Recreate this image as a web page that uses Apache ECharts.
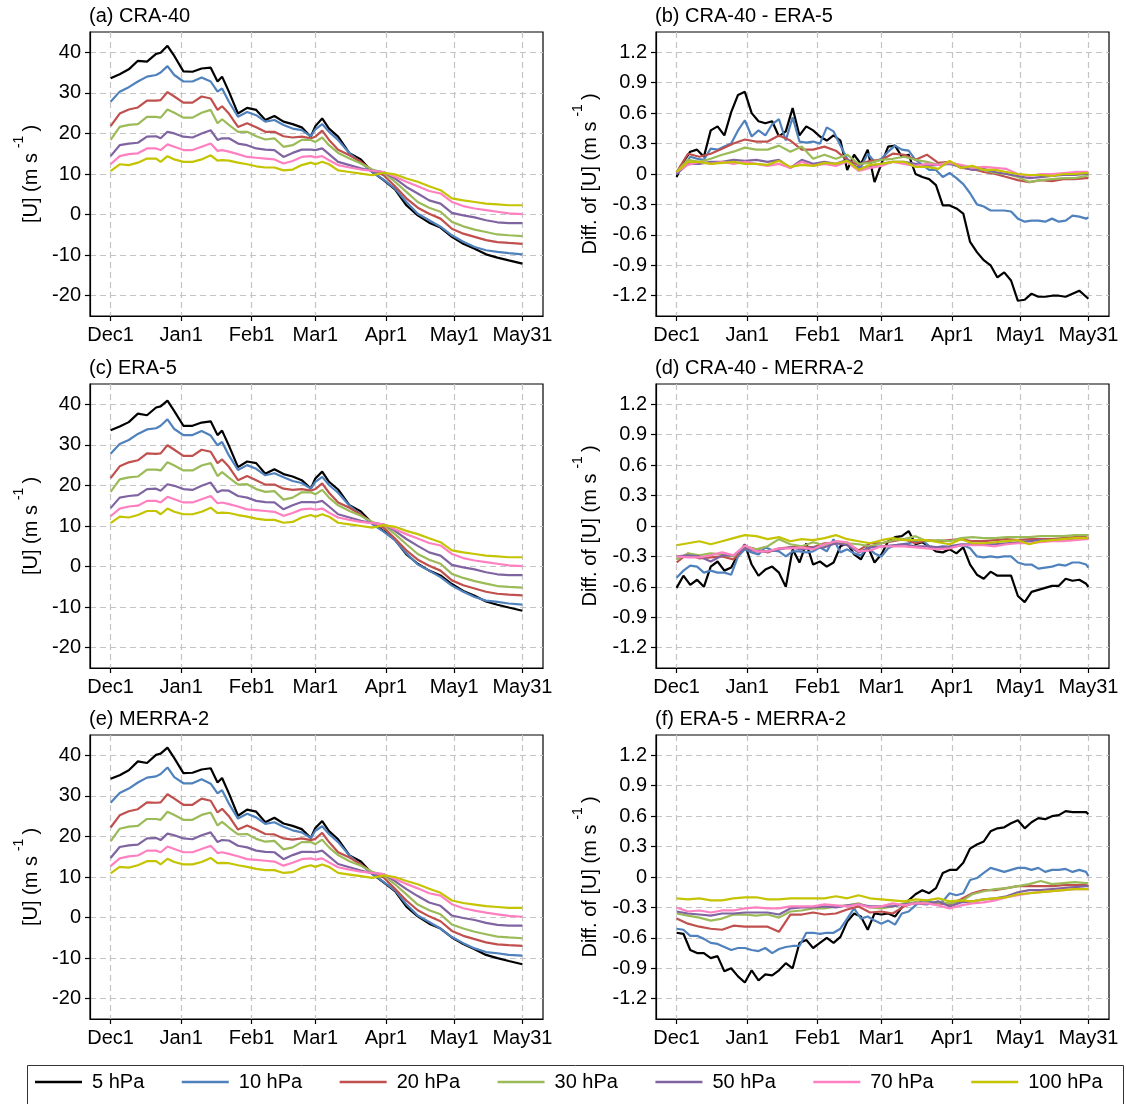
<!DOCTYPE html>
<html><head><meta charset="utf-8">
<script src="https://cdn.jsdelivr.net/npm/echarts@6/dist/echarts.min.js"></script>
<style>html,body{margin:0;padding:0;background:#fff}#chart{width:1126px;height:1104px}</style>
</head><body><div id="chart"></div>
<script>
const FONT = '"Liberation Sans", Arial, Helvetica, sans-serif';
const LEVELS = ['5 hPa','10 hPa','20 hPa','30 hPa','50 hPa','70 hPa','100 hPa'];
const COLORS = ['#000000','#4f81bd','#c0504d','#9bbb59','#8064a2','#ff80c0','#c4c400'];
const X_TICK_DAYS = [0,31,62,90,121,151,181];
const X_TICK_LABELS = ['Dec1','Jan1','Feb1','Mar1','Apr1','May1','May31'];
const Y_TICKS_U = [-20,-10,0,10,20,30,40];
const Y_TICKS_DIFF = [-1.2,-0.9,-0.6,-0.3,0,0.3,0.6,0.9,1.2];

// day index (0 = Dec1) of the sampled points
const LEFT_DAYS = [0,4,8,12,16,20,22,25,28,32,36,40,44,47,49,52,56,60,64,68,72,76,80,84,88,90,93,96,100,105,110,115,120,125,130,135,140,145,150,155,160,165,170,175,181];
const DAYS3 = [0,3,6,9,12,15,18,21,24,27,30,33,36,39,42,45,48,51,54,57,60,63,66,69,72,75,78,81,84,87,90,93,96,99,102,105,108,111,114,117,120,123,126,129,132,135,138,141,144,147,150,153,156,159,162,165,168,171,174,177,180,181];
const DAYS5 = [0,5,10,15,20,25,30,35,40,45,50,55,60,65,70,75,80,85,90,95,100,105,110,115,120,125,130,135,140,145,150,155,160,165,170,175,180,181];

// (a) CRA-40
const A5   = [33.6,34.6,35.8,37.9,37.7,39.6,39.9,41.6,39.1,35.3,35.2,36.0,36.2,32.8,34.0,30.3,24.9,26.3,25.8,23.3,24.3,22.9,22.3,21.5,19.2,21.8,23.7,21.2,19.2,15.1,13.6,10.5,8.5,6.2,2.3,-0.2,-2.0,-3.2,-5.5,-7.2,-8.4,-9.8,-10.6,-11.3,-12.1];
const A10  = [27.8,30.3,31.4,32.8,34.0,34.4,35.0,36.6,34.4,32.8,32.8,33.8,32.8,30.3,31.1,27.8,24.1,25.3,24.5,22.9,23.3,22.1,21.2,20.8,19.3,21.0,22.3,20.4,18.4,15.1,12.8,10.5,8.6,6.4,3.1,0.2,-1.4,-3.0,-5.1,-6.7,-8.0,-8.8,-9.2,-9.5,-9.8];
const A20  = [21.8,24.9,25.9,26.4,28.1,28.1,28.2,30.2,29.1,27.6,27.6,29.1,28.6,25.8,26.7,24.9,21.6,22.5,21.5,20.4,20.4,19.3,19.0,19.2,18.8,19.2,20.7,18.4,16.0,14.6,13.0,10.9,9.7,7.0,4.0,1.7,0.2,-1.0,-3.5,-4.7,-5.5,-6.3,-6.8,-7.0,-7.2];
const A30  = [18.4,21.6,22.1,22.3,24.1,24.1,23.9,25.9,25.1,23.9,23.9,25.1,25.8,22.5,23.5,22.1,20.4,20.4,19.3,18.5,18.8,16.7,17.1,18.4,18.4,17.9,19.0,17.1,15.2,13.8,12.6,11.1,10.3,8.1,5.6,3.1,1.7,0.7,-1.8,-2.9,-3.7,-4.3,-4.9,-5.1,-5.3];
const A50  = [14.4,17.1,17.5,17.7,19.2,19.3,18.8,20.4,20.0,19.2,19.0,20.0,20.8,18.4,18.8,18.8,17.5,17.1,16.3,16.0,15.9,14.2,15.2,16.0,16.0,15.9,16.3,14.9,13.0,12.2,11.4,10.8,10.5,8.9,6.8,5.2,3.5,2.7,0.4,-0.2,-0.7,-1.4,-1.9,-2.1,-2.1];
const A70  = [12.4,14.4,14.9,15.1,16.3,16.3,15.9,17.3,16.7,15.9,15.9,16.7,17.5,15.7,15.9,15.5,14.9,14.2,14.0,13.8,13.6,12.6,13.2,14.2,14.4,14.1,14.4,13.4,12.2,11.6,11.1,10.8,10.5,9.3,8.1,7.0,5.8,5.2,3.1,2.1,1.5,1.1,0.7,0.3,0.1];
const A100 = [10.7,12.4,12.2,12.8,13.8,13.8,13.0,14.4,13.6,13.0,13.0,13.6,14.6,13.3,13.4,13.3,12.8,12.4,11.9,11.6,11.6,10.9,11.1,12.2,12.8,12.4,13.0,12.4,10.9,10.5,10.1,9.7,10.3,9.9,8.9,8.1,7.0,6.0,4.0,3.5,3.1,2.7,2.5,2.3,2.3];

// (c) ERA-5
const C5   = [33.6,34.5,35.6,37.7,37.3,39.2,39.5,40.9,38.3,34.7,34.7,35.5,35.8,32.4,33.5,29.8,24.5,25.9,25.5,22.9,24.0,22.8,22.2,21.3,19.2,21.7,23.4,20.9,19.0,15.1,13.6,10.7,8.8,6.6,3.0,0.7,-1.0,-2.2,-4.3,-6.0,-7.2,-8.6,-9.4,-10.1,-10.9];
const C10  = [27.8,30.2,31.2,32.7,33.8,34.1,34.7,36.3,33.9,32.4,32.4,33.4,32.3,29.9,30.7,27.4,23.8,25.0,24.1,22.5,23.0,22.0,21.1,20.6,19.2,20.9,22.1,20.1,18.2,15.0,12.8,10.5,8.6,6.5,3.3,0.5,-1.0,-2.6,-4.7,-6.2,-7.5,-8.4,-8.7,-9.1,-9.4];
const C20  = [21.8,24.7,25.7,26.2,27.9,27.8,27.9,29.9,28.8,27.3,27.3,28.8,28.3,25.5,26.4,24.6,21.3,22.3,21.3,20.2,20.2,19.2,18.9,19.1,18.7,19.1,20.5,18.2,15.8,14.5,12.8,10.8,9.6,6.9,4.0,1.7,0.2,-1.0,-3.4,-4.6,-5.4,-6.2,-6.7,-6.9,-7.1];
const C30  = [18.4,21.5,22.0,22.2,23.9,23.9,23.7,25.7,24.9,23.7,23.7,24.9,25.5,22.3,23.3,21.9,20.2,20.3,19.1,18.4,18.6,16.5,17.0,18.3,18.3,17.8,18.9,17.0,15.1,13.7,12.5,11.0,10.2,8.0,5.5,3.1,1.7,0.7,-1.8,-2.8,-3.6,-4.2,-4.8,-5.0,-5.2];
const C50  = [14.4,17.0,17.4,17.6,19.1,19.2,18.7,20.3,19.9,19.1,18.9,19.9,20.7,18.3,18.8,18.7,17.4,17.0,16.2,15.9,15.8,14.1,15.1,15.9,15.9,15.8,16.2,14.8,12.9,12.1,11.3,10.7,10.4,8.8,6.8,5.1,3.5,2.7,0.4,-0.2,-0.7,-1.4,-1.9,-2.1,-2.1];
const C70  = [12.4,14.3,14.8,15.0,16.2,16.2,15.8,17.2,16.6,15.8,15.8,16.6,17.4,15.6,15.8,15.4,14.8,14.1,13.9,13.7,13.5,12.5,13.2,14.1,14.3,14.0,14.3,13.3,12.1,11.5,11.0,10.7,10.4,9.2,8.0,6.9,5.8,5.2,3.1,2.1,1.5,1.1,0.7,0.3,0.1];
const C100 = [10.7,12.3,12.1,12.7,13.7,13.7,12.9,14.3,13.5,12.9,12.9,13.5,14.5,13.2,13.3,13.2,12.7,12.3,11.8,11.5,11.5,10.8,11.0,12.1,12.7,12.3,12.9,12.3,10.8,10.4,10.0,9.6,10.2,9.8,8.8,8.0,7.0,6.0,4.0,3.5,3.1,2.7,2.5,2.3,2.3];

// (e) MERRA-2
const E5   = [34.2,35.1,36.3,38.5,38.1,40.1,40.4,41.9,39.3,35.6,35.7,36.5,36.8,33.3,34.4,30.6,25.1,26.6,26.1,23.5,24.6,23.2,22.6,21.8,19.6,22.1,23.8,21.3,19.3,15.3,13.8,10.8,8.7,6.5,2.7,0.3,-1.5,-2.7,-4.9,-6.5,-7.8,-9.2,-10.0,-10.7,-11.5];
const E10  = [28.3,30.7,31.8,33.3,34.5,34.8,35.4,37.0,34.6,33.1,33.1,34.1,33.0,30.6,31.4,28.1,24.4,25.6,24.7,23.1,23.5,22.4,21.5,21.0,19.6,21.4,22.5,20.6,18.6,15.3,13.0,10.8,8.8,6.7,3.3,0.5,-1.1,-2.7,-4.8,-6.3,-7.6,-8.5,-8.8,-9.2,-9.4];
const E20  = [22.2,25.2,26.2,26.7,28.4,28.3,28.4,30.4,29.3,27.8,27.8,29.3,28.8,25.9,26.8,25.0,21.7,22.7,21.7,20.6,20.5,19.5,19.2,19.5,19.1,19.4,20.9,18.6,16.1,14.8,13.1,11.1,9.9,7.1,4.2,1.8,0.3,-0.9,-3.3,-4.5,-5.3,-6.1,-6.6,-6.8,-7.0];
const E30  = [18.8,21.9,22.4,22.6,24.3,24.3,24.1,26.1,25.3,24.1,24.1,25.3,25.9,22.7,23.6,22.2,20.5,20.6,19.4,18.7,18.9,16.8,17.3,18.6,18.6,18.1,19.2,17.3,15.4,13.9,12.8,11.3,10.4,8.2,5.7,3.2,1.8,0.8,-1.7,-2.7,-3.5,-4.1,-4.7,-4.9,-5.1];
const E50  = [14.7,17.4,17.8,18.0,19.5,19.6,19.1,20.7,20.3,19.5,19.3,20.3,21.0,18.6,19.1,19.0,17.7,17.3,16.5,16.2,16.1,14.4,15.4,16.2,16.2,16.1,16.5,15.1,13.2,12.4,11.6,10.9,10.7,9.0,7.0,5.3,3.7,2.9,0.5,-0.1,-0.6,-1.3,-1.8,-2.0,-2.0];
const E70  = [12.7,14.6,15.1,15.3,16.5,16.5,16.1,17.5,16.9,16.1,16.1,16.9,17.7,15.9,16.1,15.7,15.1,14.4,14.2,14.0,13.8,12.8,13.5,14.4,14.6,14.3,14.6,13.6,12.4,11.8,11.3,11.0,10.7,9.5,8.3,7.2,6.0,5.4,3.3,2.3,1.7,1.2,0.8,0.4,0.2];
const E100 = [10.9,12.5,12.3,12.9,13.9,13.9,13.1,14.5,13.7,13.1,13.1,13.7,14.7,13.4,13.5,13.4,12.9,12.5,12.0,11.7,11.7,11.0,11.2,12.3,12.9,12.5,13.1,12.5,11.0,10.6,10.2,9.8,10.4,10.0,9.0,8.2,7.1,6.1,4.2,3.6,3.2,2.8,2.6,2.4,2.4];

// (b) CRA-40 - ERA-5   (5, 10 hPa on DAYS3; others on DAYS5)
const B5   = [-0.03,0.12,0.22,0.24,0.17,0.43,0.47,0.38,0.61,0.78,0.81,0.6,0.52,0.5,0.52,0.37,0.42,0.65,0.38,0.47,0.43,0.37,0.33,0.38,0.33,0.04,0.19,0.1,0.24,-0.08,0.1,0.27,0.28,0.17,0.19,0.0,-0.03,-0.05,-0.11,-0.31,-0.31,-0.34,-0.39,-0.67,-0.77,-0.85,-0.9,-1.02,-0.97,-1.05,-1.25,-1.24,-1.18,-1.21,-1.21,-1.2,-1.2,-1.21,-1.18,-1.15,-1.21,-1.23];
const B10  = [0.0,0.07,0.17,0.15,0.14,0.25,0.24,0.27,0.3,0.43,0.53,0.37,0.43,0.38,0.49,0.54,0.33,0.56,0.32,0.31,0.32,0.3,0.46,0.42,0.28,0.15,0.07,0.07,0.2,0.12,0.15,0.22,0.28,0.24,0.23,0.14,0.09,0.04,0.04,-0.03,0.01,-0.04,-0.1,-0.19,-0.3,-0.32,-0.36,-0.36,-0.36,-0.37,-0.44,-0.47,-0.46,-0.46,-0.47,-0.44,-0.47,-0.46,-0.41,-0.42,-0.44,-0.43];
const B20  = [0.02,0.2,0.17,0.2,0.25,0.3,0.34,0.32,0.32,0.38,0.33,0.24,0.24,0.27,0.23,0.14,0.09,0.13,0.14,0.2,0.19,0.14,0.19,0.11,0.12,0.06,0.05,0.02,0.0,-0.03,-0.06,-0.08,-0.06,-0.07,-0.05,-0.05,-0.04,-0.04];
const B30  = [0.02,0.14,0.12,0.15,0.19,0.22,0.26,0.24,0.24,0.28,0.22,0.27,0.15,0.19,0.15,0.19,0.1,0.11,0.14,0.15,0.17,0.14,0.12,0.09,0.12,0.08,0.05,0.04,0.01,0.0,-0.03,-0.08,-0.06,-0.05,-0.04,-0.04,-0.02,-0.01];
const B50  = [0.0,0.1,0.1,0.12,0.12,0.14,0.13,0.14,0.12,0.14,0.06,0.14,0.1,0.12,0.1,0.14,0.05,0.08,0.1,0.12,0.12,0.1,0.08,0.09,0.1,0.07,0.04,0.05,0.02,0.0,-0.02,-0.04,-0.03,-0.02,-0.01,-0.01,0.0,0.0];
const B70  = [0.02,0.09,0.12,0.1,0.12,0.1,0.12,0.1,0.08,0.1,0.06,0.12,0.08,0.1,0.08,0.12,0.03,0.06,0.08,0.12,0.1,0.08,0.1,0.09,0.11,0.09,0.06,0.07,0.06,0.05,0.0,-0.02,0.0,0.0,0.01,0.02,0.02,0.02];
const B100 = [0.02,0.12,0.12,0.1,0.11,0.12,0.1,0.1,0.09,0.13,0.07,0.09,0.08,0.11,0.1,0.13,0.04,0.09,0.1,0.12,0.12,0.07,0.07,0.05,0.13,0.06,0.08,0.04,0.04,0.02,0.0,-0.01,-0.01,-0.02,0.0,0.0,0.01,0.01];

// (d) CRA-40 - MERRA-2
const D5   = [-0.61,-0.49,-0.58,-0.53,-0.6,-0.4,-0.35,-0.44,-0.41,-0.28,-0.18,-0.38,-0.49,-0.43,-0.4,-0.46,-0.6,-0.23,-0.36,-0.17,-0.38,-0.35,-0.4,-0.36,-0.2,-0.17,-0.28,-0.33,-0.2,-0.36,-0.28,-0.15,-0.11,-0.1,-0.05,-0.18,-0.16,-0.2,-0.25,-0.26,-0.23,-0.27,-0.21,-0.38,-0.48,-0.52,-0.45,-0.49,-0.49,-0.49,-0.69,-0.75,-0.65,-0.63,-0.61,-0.59,-0.59,-0.52,-0.54,-0.53,-0.57,-0.6];
const D10  = [-0.51,-0.44,-0.39,-0.4,-0.46,-0.44,-0.46,-0.46,-0.48,-0.3,-0.23,-0.26,-0.28,-0.21,-0.24,-0.25,-0.3,-0.25,-0.25,-0.26,-0.25,-0.21,-0.25,-0.13,-0.26,-0.23,-0.27,-0.29,-0.21,-0.27,-0.3,-0.22,-0.19,-0.18,-0.17,-0.15,-0.14,-0.2,-0.21,-0.2,-0.21,-0.2,-0.19,-0.22,-0.3,-0.31,-0.3,-0.31,-0.3,-0.3,-0.36,-0.38,-0.38,-0.42,-0.41,-0.4,-0.38,-0.39,-0.36,-0.36,-0.38,-0.41];
const D20  = [-0.36,-0.27,-0.32,-0.31,-0.3,-0.33,-0.2,-0.23,-0.26,-0.22,-0.21,-0.2,-0.21,-0.17,-0.17,-0.17,-0.24,-0.17,-0.17,-0.15,-0.13,-0.17,-0.14,-0.15,-0.14,-0.13,-0.15,-0.15,-0.14,-0.13,-0.14,-0.13,-0.13,-0.13,-0.12,-0.11,-0.11,-0.12];
const D30  = [-0.33,-0.27,-0.29,-0.27,-0.28,-0.3,-0.2,-0.23,-0.2,-0.13,-0.18,-0.2,-0.16,-0.19,-0.15,-0.17,-0.18,-0.2,-0.17,-0.14,-0.13,-0.1,-0.15,-0.14,-0.15,-0.12,-0.11,-0.12,-0.12,-0.11,-0.11,-0.11,-0.1,-0.1,-0.1,-0.09,-0.09,-0.09];
const D50  = [-0.3,-0.29,-0.3,-0.35,-0.29,-0.29,-0.22,-0.25,-0.25,-0.23,-0.21,-0.23,-0.21,-0.21,-0.17,-0.19,-0.26,-0.21,-0.2,-0.19,-0.18,-0.2,-0.2,-0.21,-0.2,-0.18,-0.18,-0.18,-0.18,-0.17,-0.16,-0.15,-0.14,-0.14,-0.13,-0.13,-0.12,-0.12];
const D70  = [-0.3,-0.31,-0.31,-0.29,-0.26,-0.29,-0.19,-0.25,-0.25,-0.22,-0.22,-0.21,-0.23,-0.18,-0.15,-0.16,-0.25,-0.24,-0.2,-0.2,-0.2,-0.21,-0.22,-0.23,-0.22,-0.19,-0.19,-0.19,-0.2,-0.18,-0.17,-0.17,-0.16,-0.15,-0.15,-0.14,-0.13,-0.13];
const D100 = [-0.19,-0.17,-0.15,-0.18,-0.15,-0.12,-0.09,-0.1,-0.13,-0.11,-0.15,-0.13,-0.14,-0.12,-0.09,-0.13,-0.15,-0.17,-0.14,-0.12,-0.14,-0.14,-0.14,-0.16,-0.18,-0.13,-0.17,-0.17,-0.16,-0.15,-0.14,-0.18,-0.15,-0.14,-0.13,-0.12,-0.12,-0.12];

// (f) ERA-5 - MERRA-2
const F5   = [-0.55,-0.56,-0.72,-0.75,-0.75,-0.8,-0.78,-0.93,-0.9,-0.98,-1.04,-0.92,-1.02,-0.96,-0.97,-0.92,-0.85,-0.9,-0.65,-0.62,-0.7,-0.65,-0.6,-0.65,-0.59,-0.44,-0.36,-0.39,-0.52,-0.36,-0.37,-0.36,-0.39,-0.3,-0.23,-0.17,-0.13,-0.16,-0.11,0.04,0.07,0.07,0.14,0.28,0.32,0.35,0.45,0.48,0.49,0.53,0.56,0.48,0.54,0.58,0.57,0.6,0.61,0.65,0.64,0.64,0.64,0.62];
const F10  = [-0.51,-0.52,-0.58,-0.58,-0.61,-0.65,-0.66,-0.69,-0.72,-0.7,-0.7,-0.72,-0.73,-0.7,-0.75,-0.71,-0.69,-0.68,-0.68,-0.55,-0.55,-0.56,-0.55,-0.55,-0.51,-0.41,-0.31,-0.41,-0.39,-0.43,-0.46,-0.43,-0.47,-0.36,-0.34,-0.28,-0.23,-0.24,-0.26,-0.24,-0.16,-0.18,-0.16,-0.03,-0.01,0.04,0.09,0.07,0.05,0.07,0.09,0.09,0.07,0.09,0.05,0.07,0.07,0.08,0.05,0.07,0.05,0.01];
const F20  = [-0.41,-0.46,-0.49,-0.51,-0.52,-0.48,-0.49,-0.49,-0.49,-0.54,-0.37,-0.37,-0.35,-0.37,-0.36,-0.32,-0.29,-0.35,-0.34,-0.36,-0.29,-0.25,-0.26,-0.26,-0.27,-0.22,-0.16,-0.13,-0.13,-0.11,-0.09,-0.09,-0.09,-0.09,-0.08,-0.08,-0.08,-0.09];
const F30  = [-0.36,-0.38,-0.4,-0.43,-0.41,-0.37,-0.37,-0.38,-0.37,-0.4,-0.34,-0.33,-0.31,-0.31,-0.29,-0.28,-0.26,-0.3,-0.31,-0.29,-0.26,-0.25,-0.26,-0.25,-0.26,-0.24,-0.17,-0.14,-0.12,-0.11,-0.09,-0.07,-0.04,-0.07,-0.06,-0.05,-0.06,-0.06];
const F50  = [-0.34,-0.36,-0.37,-0.38,-0.36,-0.36,-0.35,-0.35,-0.35,-0.37,-0.31,-0.3,-0.3,-0.29,-0.3,-0.28,-0.27,-0.29,-0.29,-0.29,-0.27,-0.26,-0.27,-0.24,-0.29,-0.25,-0.24,-0.22,-0.21,-0.19,-0.15,-0.13,-0.13,-0.12,-0.11,-0.1,-0.09,-0.09];
const F70  = [-0.3,-0.34,-0.33,-0.35,-0.33,-0.33,-0.31,-0.3,-0.31,-0.31,-0.29,-0.29,-0.29,-0.27,-0.28,-0.29,-0.27,-0.3,-0.29,-0.26,-0.28,-0.26,-0.26,-0.28,-0.31,-0.28,-0.26,-0.25,-0.23,-0.2,-0.18,-0.16,-0.15,-0.14,-0.13,-0.12,-0.12,-0.12];
const F100 = [-0.21,-0.22,-0.21,-0.23,-0.23,-0.21,-0.2,-0.2,-0.22,-0.22,-0.21,-0.21,-0.21,-0.21,-0.19,-0.21,-0.18,-0.21,-0.22,-0.23,-0.24,-0.22,-0.23,-0.21,-0.24,-0.23,-0.24,-0.22,-0.21,-0.2,-0.17,-0.16,-0.15,-0.14,-0.13,-0.12,-0.12,-0.12];

const RIGHT_DAYS = [DAYS3, DAYS3, DAYS5, DAYS5, DAYS5, DAYS5, DAYS5];
const LEFT_DAYS_ALL = LEVELS.map(() => LEFT_DAYS);

const PANELS = [
  {title:'(a) CRA-40', left:90, top:32, kind:'u', days:LEFT_DAYS_ALL, vals:[A5,A10,A20,A30,A50,A70,A100]},
  {title:'(b) CRA-40 - ERA-5', left:656, top:32, kind:'d', days:RIGHT_DAYS, vals:[B5,B10,B20,B30,B50,B70,B100]},
  {title:'(c) ERA-5', left:90, top:384, kind:'u', days:LEFT_DAYS_ALL, vals:[C5,C10,C20,C30,C50,C70,C100]},
  {title:'(d) CRA-40 - MERRA-2', left:656, top:384, kind:'d', days:RIGHT_DAYS, vals:[D5,D10,D20,D30,D50,D70,D100]},
  {title:'(e) MERRA-2', left:90, top:735, kind:'u', days:LEFT_DAYS_ALL, vals:[E5,E10,E20,E30,E50,E70,E100]},
  {title:'(f) ERA-5 - MERRA-2', left:656, top:735, kind:'d', days:RIGHT_DAYS, vals:[F5,F10,F20,F30,F50,F70,F100]}
];
const GW = 453, GH = 284;

const grids = [], xAxes = [], yAxes = [], titles = [], series = [];
const axisLineStyle = {color:'#000', width:1.2};
const gridLine = {show:true, lineStyle:{type:[6,4], color:'#c4c4c4', width:1.2}};
const richName = {
  t:{fontSize:20, fontFamily:FONT, color:'#000', lineHeight:29, verticalAlign:'bottom'},
  s:{fontSize:14, fontFamily:FONT, color:'#000', lineHeight:29, verticalAlign:'top', padding:[0,4,0,5]}
};
PANELS.forEach((p, i) => {
  grids.push({left:p.left, top:p.top, width:GW, height:GH, show:true, borderColor:'#000', borderWidth:1.2, containLabel:false});
  titles.push({text:p.title, left:p.left - 1, top:p.top - 26, padding:0,
    textStyle:{fontSize:20, fontWeight:'normal', color:'#000', fontFamily:FONT}});
  xAxes.push({type:'value', gridIndex:i, min:-9.05, max:190.05,
    axisLine:{onZero:false, lineStyle:axisLineStyle},
    axisTick:{customValues:X_TICK_DAYS, length:5, lineStyle:axisLineStyle},
    axisLabel:{customValues:X_TICK_DAYS, formatter:v => X_TICK_LABELS[X_TICK_DAYS.indexOf(v)] || '',
      fontSize:20, color:'#000', fontFamily:FONT, margin:9},
    splitLine:gridLine});
  const isU = p.kind === 'u';
  const ticks = isU ? Y_TICKS_U : Y_TICKS_DIFF;
  yAxes.push({type:'value', gridIndex:i, min:isU ? -25 : -1.4, max:isU ? 45 : 1.4,
    name: isU ? '{t|[U] (m s}{s|-1}{t|)}' : '{t|Diff. of [U] (m s}{s|-1}{t|)}',
    nameLocation:'middle', nameRotate:90, nameGap: isU ? 49 : 56,
    nameTextStyle:{rich:richName},
    axisLine:{onZero:false, lineStyle:axisLineStyle},
    axisTick:{customValues:ticks, length:5, lineStyle:axisLineStyle},
    axisLabel:{customValues:ticks, formatter:v => String(Math.round(v * 10) / 10),
      fontSize:20, color:'#000', fontFamily:FONT, margin:9},
    splitLine:gridLine});
  LEVELS.forEach((name, k) => {
    const days = p.days[k];
    series.push({type:'line', name, xAxisIndex:i, yAxisIndex:i, symbol:'none',
      data: days.map((d, j) => [d, p.vals[k][j]]),
      lineStyle:{width:2.2, color:COLORS[k]}, itemStyle:{color:COLORS[k]},
      z: 2 + k, animation:false, silent:true});
  });
});

const chart = echarts.init(document.getElementById('chart'), null, {renderer:'canvas'});
chart.setOption({
  backgroundColor:'#fff',
  animation:false,
  title:titles,
  grid:grids, xAxis:xAxes, yAxis:yAxes, series,
  legend:{data:LEVELS, icon:'rect', left:35, top:1072, padding:0, itemWidth:47, itemHeight:2.6, itemGap:37.5,
    textStyle:{fontSize:20, color:'#000', fontFamily:FONT, padding:[0,0,0,5]}, selectedMode:false},
  graphic:[{type:'rect', left:25, top:1063, shape:{width:1096, height:60},
    style:{fill:'none', stroke:'#333', lineWidth:1}, z:0}]
});
</script></body></html>
